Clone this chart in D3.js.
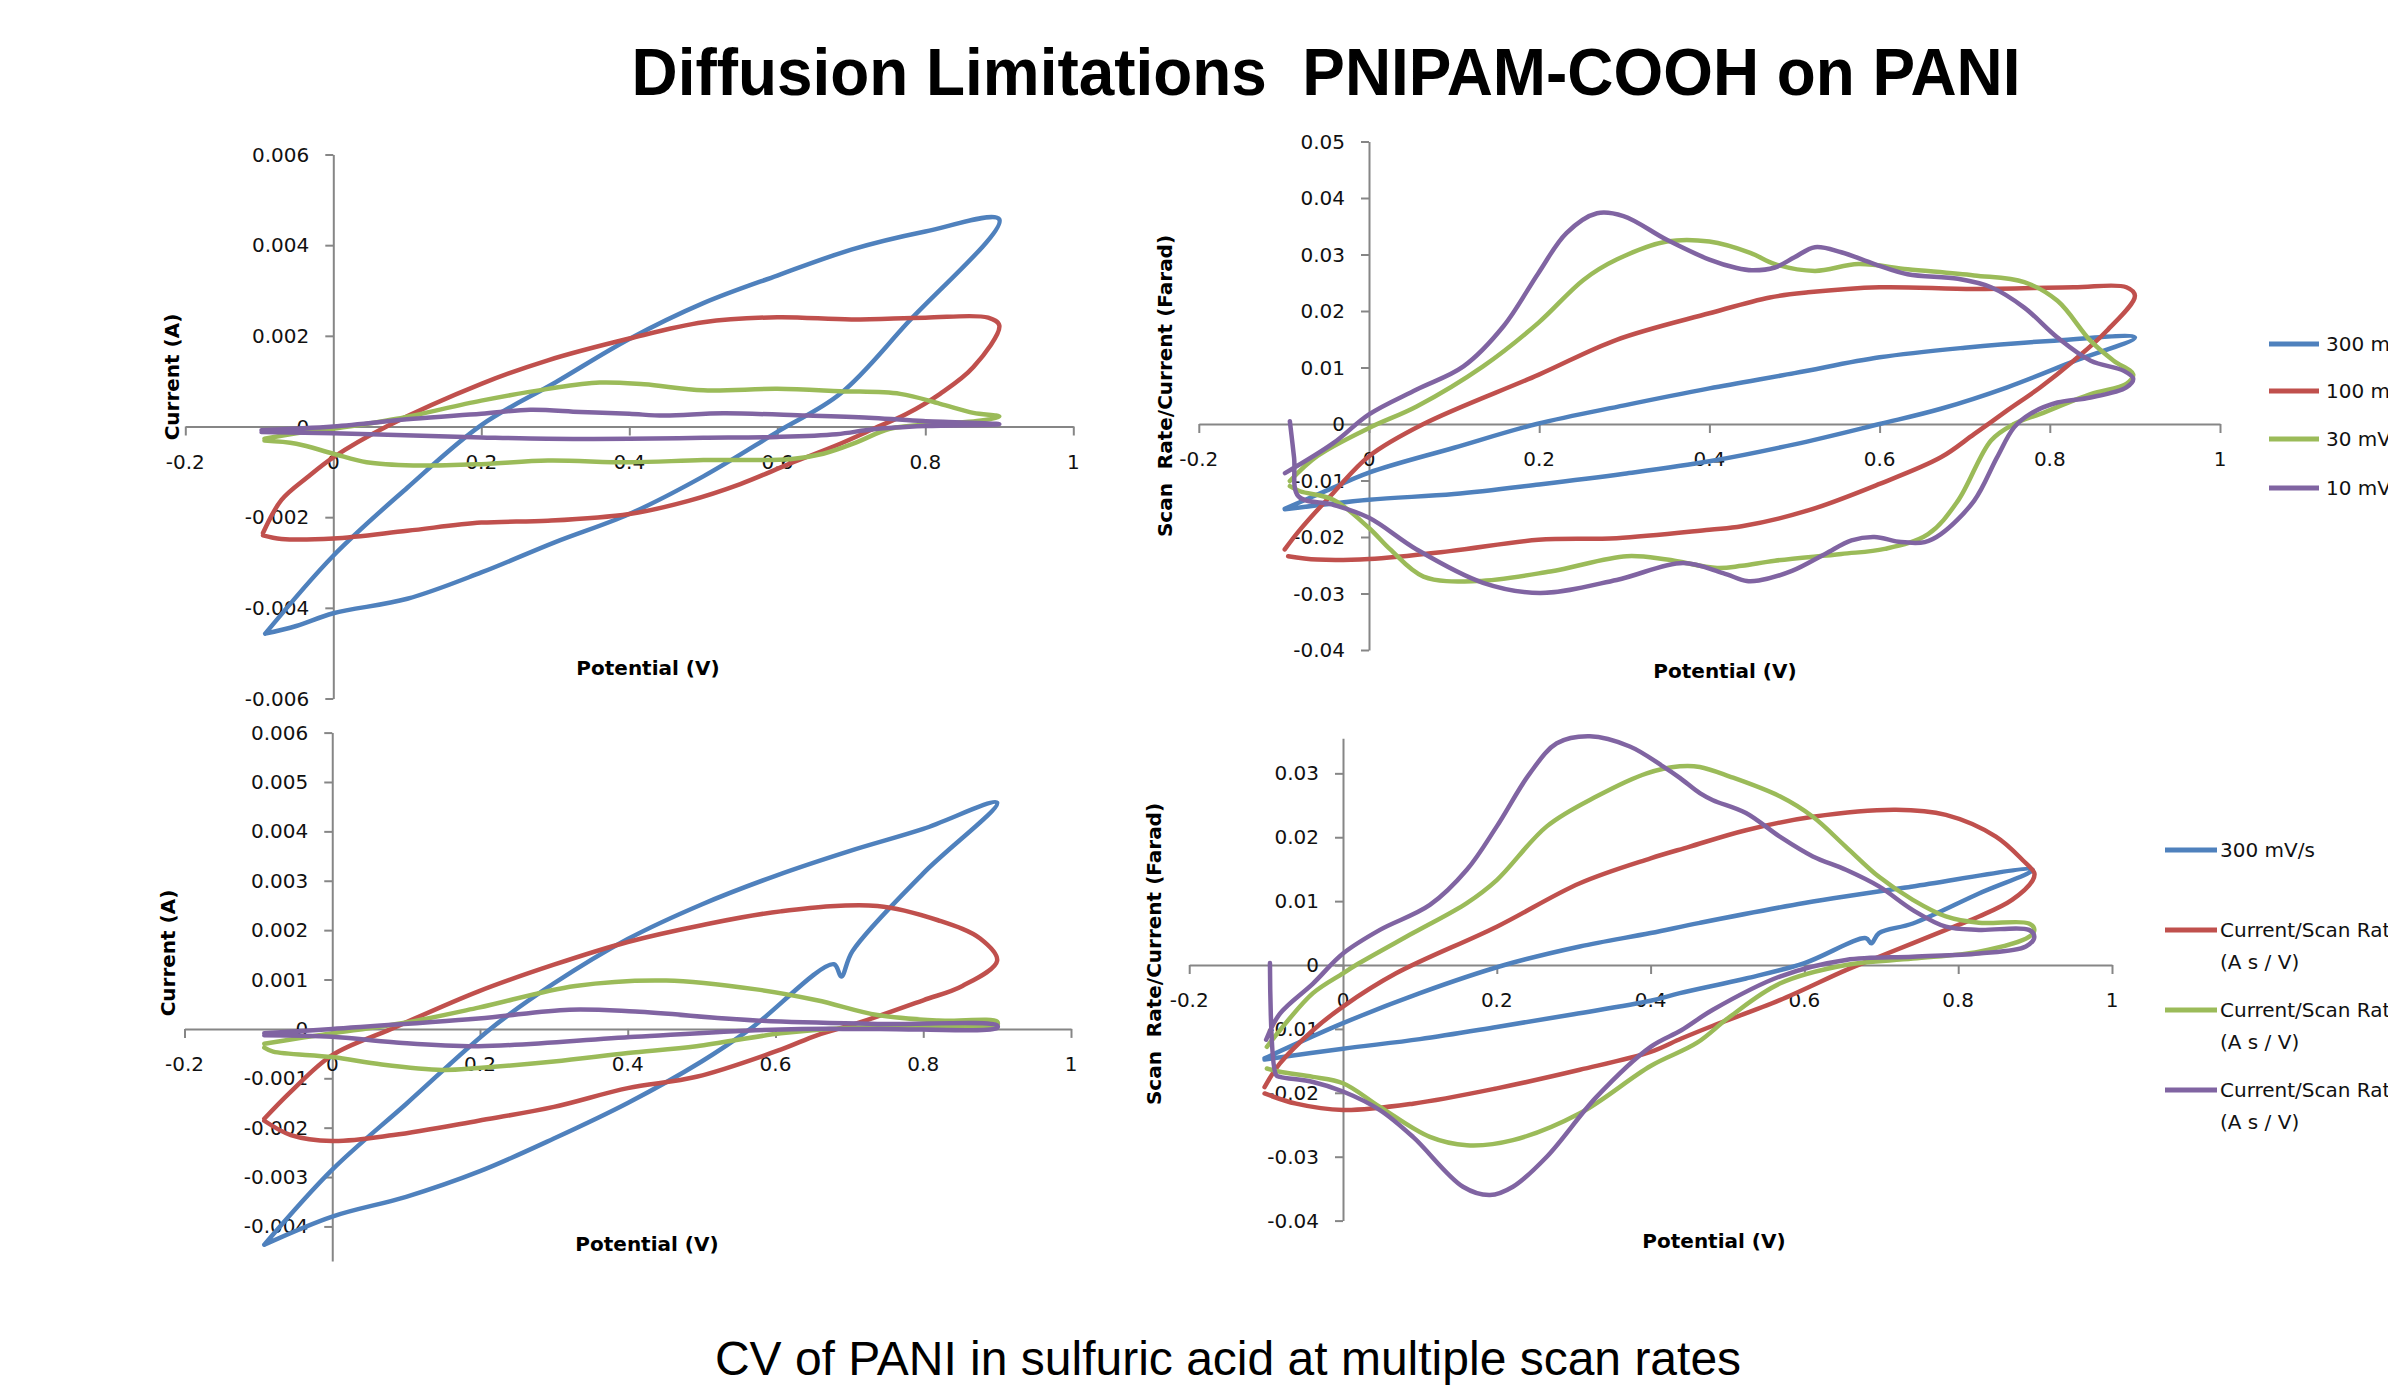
<!DOCTYPE html>
<html>
<head>
<meta charset="utf-8">
<script src="https://cdn.jsdelivr.net/npm/d3@7"></script>
<style>
  body { margin: 0; background: #fff; overflow: hidden; }
  svg { display: block; }
</style>
</head>
<body>
<svg id="chart" width="2388" height="1386"></svg>
<script>
// ---- tick values ----
const potentialTicks = [-0.2, 0, 0.2, 0.4, 0.6, 0.8, 1];
const currentTicksA = [-0.006, -0.004, -0.002, 0, 0.002, 0.004, 0.006];
const currentTicksB = [-0.004, -0.003, -0.002, -0.001, 0, 0.001, 0.002, 0.003, 0.004, 0.005, 0.006];
const faradTicksA = [-0.04, -0.03, -0.02, -0.01, 0, 0.01, 0.02, 0.03, 0.04, 0.05];
const faradTicksB = [-0.04, -0.03, -0.02, -0.01, 0, 0.01, 0.02, 0.03];

const legendTop = ["300 mV/s", "100 mV/s", "30 mV/s", "10 mV/s"];
const legendBottom = [["300 mV/s"], ["Current/Scan Rate", "(A s / V)"], ["Current/Scan Rate", "(A s / V)"], ["Current/Scan Rate", "(A s / V)"]];

// ---- top-left: current (A) vs potential (V) ----
const cvA300 = [[-0.092,-0.00457],[-0.05,-0.0044],[0,-0.00412],[0.1,-0.0038],[0.2,-0.00322],[0.3,-0.00255],[0.4,-0.00193],[0.5,-0.0011],[0.6,-0.00012],[0.685,0.00072],[0.775,0.00227],[0.9,0.00457],
  [0.8,0.0043],[0.7,0.0039],[0.6,0.00333],[0.5,0.00272],[0.4,0.00193],[0.3,0.00097],[0.2,0.00003],[0.1,-0.00135],[0,-0.00285],[-0.092,-0.00457]];
const cvA100 = [[-0.095,-0.00235],[-0.07,-0.00162],[-0.035,-0.00112],[0,-0.00068],[0.072,0],[0.2,0.00094],[0.29,0.00146],[0.4,0.00194],[0.5,0.0023],[0.6,0.00241],[0.7,0.00236],[0.8,0.0024],[0.885,0.0024],[0.9,0.00223],
  [0.865,0.00131],[0.82,0.00072],[0.775,0.00028],[0.73,-0.00005],[0.685,-0.00038],[0.617,-0.00082],[0.55,-0.00127],[0.48,-0.00164],[0.4,-0.00193],[0.29,-0.00208],[0.2,-0.00212],[0.1,-0.0023],[0,-0.00247],[-0.07,-0.00248],[-0.095,-0.0024]];
const cvA30 = [[-0.093,-0.00027],[-0.05,-0.00015],[0,-0.00005],[0.086,0.00017],[0.2,0.00057],[0.29,0.00083],[0.36,0.00097],[0.42,0.00093],[0.5,0.0008],[0.6,0.00083],[0.685,0.00078],[0.766,0.00072],[0.82,0.0005],[0.865,0.0003],[0.9,0.00022],
  [0.87,0.00012],[0.82,0.00006],[0.752,-0.00005],[0.707,-0.00035],[0.662,-0.0006],[0.617,-0.00072],[0.5,-0.00074],[0.4,-0.00079],[0.29,-0.00075],[0.2,-0.00083],[0.108,-0.00086],[0.045,-0.00079],[0,-0.0006],[-0.05,-0.00038],[-0.093,-0.00031]];
const cvA10 = [[-0.097,-0.00008],[0,0],[0.108,0.00017],[0.2,0.00028],[0.266,0.00037],[0.334,0.00032],[0.4,0.00028],[0.447,0.00024],[0.527,0.00029],[0.64,0.00024],[0.73,0.00019],[0.797,0.00012],[0.9,0.00005],
  [0.8,0.00001],[0.73,-0.00006],[0.68,-0.00017],[0.6,-0.00023],[0.5,-0.00025],[0.4,-0.00027],[0.289,-0.00027],[0.2,-0.00024],[0.108,-0.0002],[0,-0.00015],[-0.097,-0.00012]];

// ---- bottom-left: current (A) vs potential (V) ----
const cvB300 = [[-0.092,-0.00437],[0,-0.00285],[0.1,-0.00152],[0.214,0],[0.3,0.00092],[0.4,0.00182],[0.5,0.00252],[0.6,0.0031],[0.7,0.0036],[0.8,0.00405],[0.9,0.00458],
  [0.8,0.00315],[0.704,0.00157],[0.689,0.00106],[0.679,0.00131],[0.566,0],[0.5,-0.00066],[0.4,-0.0015],[0.3,-0.00222],[0.2,-0.00288],[0.1,-0.0034],[0,-0.0038],[-0.092,-0.00437]];
const cvB100 = [[-0.092,-0.00182],[-0.056,-0.00127],[0,-0.00053],[0.08,0],[0.198,0.00076],[0.3,0.0013],[0.4,0.00176],[0.5,0.0021],[0.607,0.00238],[0.738,0.00249],[0.82,0.0022],[0.877,0.00183],[0.9,0.00138],
  [0.853,0.00087],[0.8,0.00058],[0.714,0.00013],[0.656,-0.00013],[0.607,-0.00042],[0.493,-0.00097],[0.4,-0.0012],[0.3,-0.00158],[0.198,-0.00186],[0.083,-0.00215],[0,-0.00227],[-0.056,-0.00215],[-0.092,-0.00186]];
const cvB30 = [[-0.092,-0.0003],[-0.05,-0.0002],[0,-0.00009],[0.1,0.00013],[0.198,0.00043],[0.329,0.00087],[0.452,0.00098],[0.574,0.0008],[0.656,0.00058],[0.738,0.00028],[0.82,0.00017],[0.9,0.00015],
  [0.9,0.00007],[0.82,0.00006],[0.697,0.00002],[0.607,-0.00009],[0.493,-0.00035],[0.4,-0.00049],[0.3,-0.00066],[0.198,-0.00079],[0.149,-0.00083],[0.067,-0.00072],[0,-0.00057],[-0.08,-0.00046],[-0.092,-0.00038]];
const cvB10 = [[-0.092,-0.00009],[0,0],[0.198,0.00021],[0.321,0.00039],[0.41,0.00035],[0.574,0.00017],[0.738,0.0001],[0.9,0.00007],
  [0.9,0.00002],[0.738,0],[0.607,-0.00001],[0.41,-0.00016],[0.198,-0.00035],[0.083,-0.00027],[0,-0.00016],[-0.092,-0.00013]];

// ---- top-right: scan rate / current (F) ----
const capA300 = [[-0.099,-0.015],[-0.05,-0.0118],[0,-0.0086],[0.1,-0.0042],[0.197,0],[0.3,0.0033],[0.4,0.0063],[0.5,0.009],[0.6,0.0118],[0.7,0.0135],[0.8,0.0147],[0.9,0.0153],
  [0.83,0.0112],[0.75,0.0065],[0.672,0.0027],[0.6,0],[0.5,-0.0036],[0.4,-0.0066],[0.3,-0.0088],[0.2,-0.0107],[0.1,-0.0124],[0,-0.0134],[-0.099,-0.0151]];
const capA100 = [[-0.099,-0.0222],[-0.081,-0.0187],[-0.042,-0.0122],[0,-0.0057],[0.064,0],[0.199,0.0087],[0.291,0.0149],[0.4,0.0196],[0.471,0.0224],[0.516,0.0233],[0.6,0.0242],[0.711,0.0239],[0.828,0.0242],[0.89,0.0242],[0.9,0.0227],
  [0.867,0.0165],[0.828,0.0112],[0.789,0.0065],[0.75,0.0024],[0.711,-0.0018],[0.672,-0.0059],[0.6,-0.0106],[0.516,-0.0153],[0.438,-0.0181],[0.4,-0.0187],[0.291,-0.0202],[0.199,-0.0205],[0.095,-0.0225],[0,-0.0239],[-0.061,-0.024],[-0.095,-0.0234]];
const capA30 = [[-0.093,-0.0101],[-0.061,-0.0057],[0,-0.0007],[0.056,0.0031],[0.134,0.0102],[0.199,0.0179],[0.252,0.0255],[0.291,0.0291],[0.35,0.0323],[0.4,0.0323],[0.448,0.0303],[0.477,0.0283],[0.524,0.0271],[0.575,0.0283],[0.633,0.0274],[0.711,0.0263],[0.77,0.0251],[0.809,0.0218],[0.848,0.0147],[0.875,0.0112],[0.898,0.0088],
  [0.89,0.0071],[0.848,0.0053],[0.789,0.0018],[0.758,0],[0.731,-0.0029],[0.692,-0.0136],[0.657,-0.0195],[0.606,-0.0221],[0.555,-0.023],[0.477,-0.0242],[0.438,-0.0251],[0.409,-0.0255],[0.35,-0.024],[0.303,-0.0234],[0.213,-0.0261],[0.127,-0.0278],[0.064,-0.027],[0.025,-0.0222],[0,-0.0184],[-0.042,-0.0134],[-0.081,-0.0119],[-0.093,-0.011]];
const capA10 = [[-0.093,0.0005],[-0.088,-0.006],[-0.083,-0.0128],[-0.042,-0.0143],[0,-0.0166],[0.056,-0.0222],[0.134,-0.0281],[0.201,-0.0299],[0.291,-0.0276],[0.369,-0.0246],[0.416,-0.0264],[0.444,-0.0278],[0.458,-0.0277],[0.497,-0.026],[0.536,-0.023],[0.567,-0.0206],[0.594,-0.02],[0.625,-0.0209],[0.653,-0.0209],[0.672,-0.0195],[0.711,-0.0136],[0.738,-0.0059],[0.758,-0.0006],[0.777,0.0018],[0.809,0.0038],[0.848,0.0047],[0.89,0.0065],[0.898,0.008],
  [0.887,0.0094],[0.848,0.0112],[0.809,0.0153],[0.77,0.0206],[0.731,0.0242],[0.692,0.0257],[0.633,0.0265],[0.594,0.0283],[0.555,0.0304],[0.524,0.0313],[0.5,0.0295],[0.477,0.0277],[0.45,0.0272],[0.432,0.0276],[0.4,0.0291],[0.35,0.0326],[0.299,0.0368],[0.268,0.0373],[0.232,0.0338],[0.199,0.0267],[0.158,0.0173],[0.111,0.0102],[0.056,0.0061],[0,0.0017],[-0.042,-0.0034],[-0.0987,-0.0087]];

// ---- bottom-right: scan rate / current (F) ----
const capB300 = [[-0.102,-0.0146],[0,-0.0091],[0.1,-0.0044],[0.21,0],[0.308,0.0029],[0.4,0.005],[0.464,0.0066],[0.6,0.0097],[0.741,0.0123],[0.897,0.0149],
  [0.827,0.0112],[0.741,0.0065],[0.697,0.005],[0.687,0.0034],[0.68,0.0042],[0.6,0.0003],[0.524,-0.0021],[0.438,-0.0044],[0.4,-0.0056],[0.3,-0.0077],[0.2,-0.0097],[0.1,-0.0116],[0,-0.0131],[-0.102,-0.0148]];
const capB100 = [[-0.102,-0.0191],[-0.082,-0.0154],[-0.039,-0.0102],[0,-0.0065],[0.069,-0.0013],[0.2,0.006],[0.308,0.0128],[0.4,0.0167],[0.45,0.0185],[0.524,0.0211],[0.611,0.0232],[0.719,0.0243],[0.784,0.0235],[0.849,0.0201],[0.884,0.0164],[0.899,0.0144],
  [0.897,0.0133],[0.87,0.0102],[0.827,0.0076],[0.784,0.0055],[0.697,0.0013],[0.654,-0.0008],[0.568,-0.0055],[0.481,-0.0095],[0.44,-0.0115],[0.4,-0.0136],[0.308,-0.0164],[0.2,-0.0193],[0.091,-0.0217],[0,-0.0227],[-0.061,-0.0217],[-0.102,-0.0201]];
const capB30 = [[-0.099,-0.0128],[-0.082,-0.0102],[-0.039,-0.0044],[0,-0.0013],[0.017,0],[0.091,0.005],[0.161,0.0097],[0.2,0.0133],[0.265,0.0217],[0.33,0.0264],[0.395,0.03],[0.438,0.0311],[0.464,0.031],[0.503,0.0295],[0.568,0.0264],[0.611,0.0232],[0.654,0.0185],[0.697,0.0138],[0.741,0.0102],[0.784,0.0076],[0.827,0.0066],[0.892,0.0065],[0.899,0.0055],
  [0.892,0.0044],[0.827,0.0021],[0.741,0.001],[0.654,0],[0.568,-0.0029],[0.503,-0.0081],[0.46,-0.0122],[0.4,-0.0158],[0.308,-0.0232],[0.221,-0.0274],[0.161,-0.0282],[0.113,-0.0269],[0.048,-0.0222],[0,-0.0185],[-0.039,-0.0175],[-0.082,-0.0167],[-0.099,-0.0162]];
const capB10 = [[-0.095,0.0003],[-0.087,-0.0172],[-0.082,-0.0175],[-0.039,-0.0183],[0,-0.0198],[0.048,-0.0227],[0.091,-0.0269],[0.156,-0.0347],[0.191,-0.036],[0.221,-0.0347],[0.265,-0.03],[0.33,-0.0206],[0.4,-0.0128],[0.44,-0.0102],[0.481,-0.007],[0.568,-0.0018],[0.654,0.0008],[0.741,0.0013],[0.827,0.0018],[0.888,0.0029],[0.899,0.0044],
  [0.892,0.0055],[0.827,0.0055],[0.784,0.006],[0.741,0.0086],[0.697,0.0123],[0.654,0.0149],[0.611,0.017],[0.568,0.0201],[0.524,0.0238],[0.481,0.0258],[0.464,0.0269],[0.438,0.0293],[0.416,0.0311],[0.373,0.0342],[0.321,0.0358],[0.278,0.0347],[0.243,0.03],[0.2,0.0217],[0.161,0.0149],[0.113,0.0094],[0.048,0.0055],[0,0.0018],[-0.039,-0.0029],[-0.082,-0.0076],[-0.1,-0.0117]];

const colors = ["#4F81BD", "#C0504D", "#9BBB59", "#8064A2"];
const axisColor = "#868686";
const tickFont = "'DejaVu Sans', sans-serif";

const svg = d3.select("#chart");

svg.append("text")
  .attr("x", 1326).attr("y", 95)
  .attr("text-anchor", "middle")
  .attr("font-family", "'Liberation Sans', Arial, sans-serif")
  .attr("font-weight", "bold")
  .attr("font-size", 66)
  .attr("textLength", 1389)
  .attr("lengthAdjust", "spacingAndGlyphs")
  .style("white-space", "pre")
  .text("Diffusion Limitations  PNIPAM-COOH on PANI");

svg.append("text")
  .attr("x", 1228).attr("y", 1375)
  .attr("text-anchor", "middle")
  .attr("font-family", "'Liberation Sans', Arial, sans-serif")
  .attr("font-size", 48)
  .text("CV of PANI in sulfuric acid at multiple scan rates");

const panels = [
  { xr: [185.3, 1073.3], yr: [698.5, 154.5], yDom: [-0.006, 0.006], yTicks: currentTicksA,
    series: [cvA300, cvA100, cvA30, cvA10], xTitle: [648, 668], yTitle: [172, 377, "Current (A)"] },
  { xr: [1198.8, 2220], yr: [650, 141.5], yDom: [-0.04, 0.05], yTicks: faradTicksA,
    series: [capA300, capA100, capA30, capA10], xTitle: [1725, 671], yTitle: [1165, 386, "Scan  Rate/Current (Farad)"] },
  { xr: [184.5, 1071], yr: [1261, 732.6], yDom: [-0.0047, 0.006], yTicks: currentTicksB,
    series: [cvB300, cvB100, cvB30, cvB10], xTitle: [647, 1244], yTitle: [168, 953, "Current (A)"] },
  { xr: [1189.2, 2112], yr: [1220.6, 738.2], yDom: [-0.04, 0.0355], yTicks: faradTicksB,
    series: [capB300, capB100, capB30, capB10], xTitle: [1714, 1241], yTitle: [1154, 954, "Scan  Rate/Current (Farad)"] }
];

panels.forEach(p => {
  const x = d3.scaleLinear().domain([-0.2, 1]).range(p.xr);
  const y = d3.scaleLinear().domain(p.yDom).range(p.yr);
  const g = svg.append("g");

  const xAxis = g.append("g")
    .attr("transform", `translate(0,${y(0)})`)
    .call(d3.axisBottom(x).tickValues(potentialTicks).tickSize(9).tickSizeOuter(0).tickFormat(""));
  const yAxis = g.append("g")
    .attr("transform", `translate(${x(0)},0)`)
    .call(d3.axisLeft(y).tickValues(p.yTicks).tickSize(8).tickSizeOuter(0).tickFormat(""));
  [xAxis, yAxis].forEach(a => {
    a.selectAll("path, line").attr("stroke", axisColor).attr("stroke-width", 2);
  });

  g.selectAll("text.xl").data(potentialTicks).join("text")
    .attr("class", "xl")
    .attr("x", d => x(d)).attr("y", y(0) + 35).attr("dy", "0.35em")
    .attr("text-anchor", "middle")
    .attr("font-family", tickFont).attr("font-size", 20).attr("fill", "#111")
    .text(d => String(d));
  g.selectAll("text.yl").data(p.yTicks).join("text")
    .attr("class", "yl")
    .attr("x", x(0) - 24).attr("y", d => y(d)).attr("dy", "0.35em")
    .attr("text-anchor", "end")
    .attr("font-family", tickFont).attr("font-size", 20).attr("fill", "#111")
    .text(d => String(d));

  const line = d3.line()
    .x(d => x(d[0])).y(d => y(d[1]))
    .curve(d3.curveCatmullRom.alpha(0.5));

  g.selectAll("path.cv").data(p.series).join("path")
    .attr("class", "cv")
    .attr("d", line)
    .attr("fill", "none")
    .attr("stroke", (d, i) => colors[i])
    .attr("stroke-width", 4.5)
    .attr("stroke-linejoin", "round")
    .attr("stroke-linecap", "round");

  g.append("text")
    .attr("x", p.xTitle[0]).attr("y", p.xTitle[1]).attr("dy", "0.35em")
    .attr("text-anchor", "middle")
    .attr("font-family", tickFont).attr("font-weight", "bold").attr("font-size", 20)
    .text("Potential (V)");
  g.append("text")
    .attr("transform", `translate(${p.yTitle[0]},${p.yTitle[1]}) rotate(-90)`)
    .attr("dy", "0.35em")
    .attr("text-anchor", "middle")
    .attr("font-family", tickFont).attr("font-weight", "bold").attr("font-size", 20)
    .style("white-space", "pre")
    .text(p.yTitle[2]);
});

// legend, top-right panel (runs off the right edge, as in the source slide)
const legA = svg.append("g");
[344, 391, 439, 488].forEach((ly, i) => {
  legA.append("line").attr("x1", 2269).attr("x2", 2319).attr("y1", ly).attr("y2", ly)
    .attr("stroke", colors[i]).attr("stroke-width", 5);
  legA.append("text").attr("x", 2326).attr("y", ly).attr("dy", "0.35em")
    .attr("font-family", tickFont).attr("font-size", 20).attr("fill", "#111")
    .text(legendTop[i]);
});

// legend, bottom-right panel
const legB = svg.append("g");
[850, 930, 1010, 1090].forEach((ly, i) => {
  legB.append("line").attr("x1", 2165).attr("x2", 2217).attr("y1", ly).attr("y2", ly)
    .attr("stroke", colors[i]).attr("stroke-width", 5);
  legendBottom[i].forEach((t, k) => {
    legB.append("text").attr("x", 2220).attr("y", ly + k * 32).attr("dy", "0.35em")
      .attr("font-family", tickFont).attr("font-size", 20).attr("fill", "#111")
      .text(t);
  });
});
</script>
</body>
</html>
